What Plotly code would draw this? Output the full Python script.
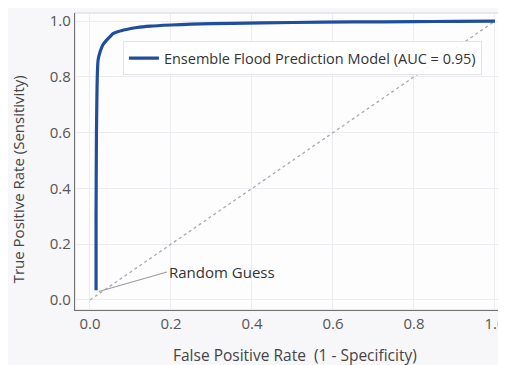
import plotly.graph_objects as go

fpr = [0.015, 0.015, 0.016, 0.017, 0.018, 0.02, 0.025, 0.032, 0.04, 0.05, 0.057, 0.07, 0.09, 0.116, 0.15, 0.2, 0.25, 0.35, 0.5, 0.65, 0.8, 0.9, 1.0]
tpr = [0.035, 0.3, 0.6, 0.72, 0.8, 0.86, 0.89, 0.915, 0.93, 0.945, 0.955, 0.963, 0.97, 0.977, 0.982, 0.986, 0.989, 0.992, 0.995, 0.997, 0.998, 0.999, 1.0]
diag = [0, 1]
model_name = "Ensemble Flood Prediction Model (AUC = 0.95)"
tick_vals = [0.0, 0.2, 0.4, 0.6, 0.8, 1.0]
tick_text = ["0.0", "0.2", "0.4", "0.6", "0.8", "1.0"]
x_title = "False Positive Rate  (1 - Specificity)"
y_title = "True Positive Rate (Sensitivity)"

font_family = "Open Sans, Noto Sans, sans-serif"

fig = go.Figure()
fig.add_trace(go.Scatter(x=diag, y=diag, mode="lines",
                         line=dict(color="#a9a9b0", width=1.3, dash="dot"),
                         showlegend=False, hoverinfo="skip"))
fig.add_trace(go.Scatter(x=fpr, y=tpr, mode="lines", name=model_name,
                         line=dict(color="#1f4e9f", width=3.2, shape="spline", smoothing=0.6)))

fig.add_annotation(x=0.022, y=0.03, ax=0.19, ay=0.1, axref="x", ayref="y",
                   text="Random Guess", showarrow=True, arrowhead=0,
                   arrowcolor="#9a9aa0", arrowwidth=1.1, xanchor="left",
                   font=dict(size=15, color="#333333", family=font_family))

fig.add_annotation(xref="paper", yref="paper", x=0.52, y=0, yshift=-45,
                   xanchor="center", yanchor="middle", showarrow=False,
                   text=x_title, font=dict(size=15.5, color="#444444", family=font_family))
fig.add_annotation(xref="paper", yref="paper", x=0, y=0.44, xshift=-57,
                   xanchor="center", yanchor="middle", showarrow=False, textangle=-90,
                   text=y_title, font=dict(size=15, color="#444444", family=font_family))

fig.update_layout(
    width=498, height=357,
    margin=dict(l=67, r=7, t=5, b=55),
    paper_bgcolor="#f7f6f9",
    plot_bgcolor="#fdfdfe",
    font=dict(family=font_family, color="#444444"),
    legend=dict(x=0.113, y=0.905, xanchor="left", yanchor="top",
                bgcolor="rgba(255,255,255,0.9)", bordercolor="#e4e4e8", borderwidth=1,
                font=dict(size=14.5, color="#333333")),
    xaxis=dict(range=[-0.037, 1.01], tickvals=tick_vals, ticktext=tick_text,
               showgrid=True, gridcolor="#ececf0", gridwidth=1, zeroline=False,
               showline=True, linecolor="#707075", linewidth=1.3, mirror=False,
               ticks="", automargin=False, tickfont=dict(size=15, color="#555555")),
    yaxis=dict(range=[-0.036, 1.029], tickvals=tick_vals, ticktext=tick_text,
               showgrid=True, gridcolor="#ececf0", gridwidth=1, zeroline=False,
               showline=True, linecolor="#707075", linewidth=1.3,
               ticks="", automargin=False, tickfont=dict(size=15, color="#555555")),
    shapes=[dict(type="rect", xref="paper", yref="paper", x0=0, y0=0, x1=1, y1=1,
                 line=dict(color="#d8d8dc", width=1), layer="below")],
)

fig.write_html("out.html")
